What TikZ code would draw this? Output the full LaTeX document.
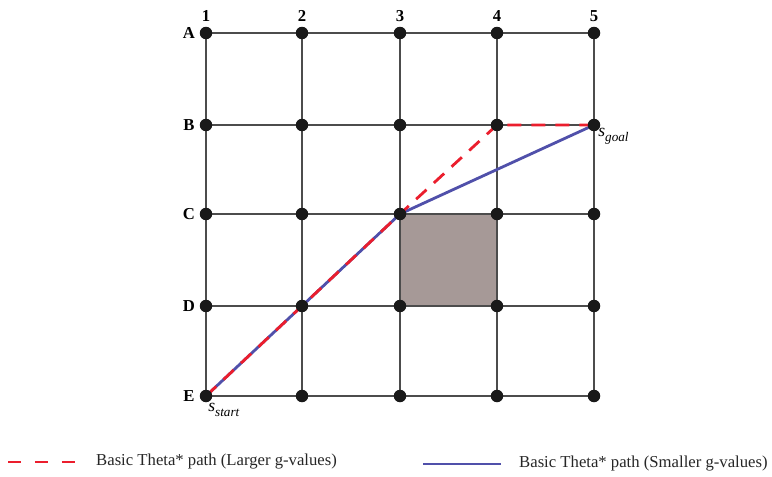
\documentclass[tikz,border=0pt]{standalone}
\usepackage{fontspec}
\setmainfont{Liberation Serif}
\usepackage{xcolor}

\definecolor{obstgray}{RGB}{166,153,151}
\definecolor{pathred}{RGB}{235,30,45}
\definecolor{pathblue}{RGB}{80,80,170}

\begin{document}
\begin{tikzpicture}[x=0.02cm, y=-0.02cm,
    gridline/.style={line width=0.75pt, black!70},
    dot/.style={circle, fill=black!90, inner sep=0pt, minimum size=0.25cm},
    redpath/.style={pathred, line width=1.6pt, dash pattern=on 0.28cm off 0.2cm},
    bluepath/.style={pathblue, line width=1.6pt},
    lbl/.style={font=\fontsize{9.5}{10}\selectfont\bfseries},
    legtext/.style={font=\fontsize{9.5}{11}\selectfont, anchor=west, text=black!85}]
    \useasboundingbox (0,0) rectangle (772,477);

    % grid points
    \foreach \r/\y in {a/33, b/125, c/214, d/306, e/396}
        \foreach \c/\x in {1/206, 2/302, 3/400, 4/497, 5/594}
            \coordinate (\r\c) at (\x,\y);

    % blocked cell
    \fill[obstgray] (c3) rectangle (d4);

    \foreach \r in {a, b, c, d, e}
        \draw[gridline] (\r1) -- (\r5);
    \foreach \c in {1, 2, 3, 4, 5}
        \draw[gridline] (a\c) -- (e\c);

    % the two paths
    \draw[bluepath] (e1) -- (c3) -- (b5);
    \draw[redpath] (e1) -- (c3) -- (b4) -- (b5);

    \foreach \r in {a, b, c, d, e}
        \foreach \c in {1, 2, 3, 4, 5}
            \node[dot] (n\r\c) at (\r\c) {};

    % labels
    \foreach \c/\x in {1/206, 2/302, 3/400, 4/497, 5/594}
        \node[lbl] (col\c) at (\x,16) {\c};
    \foreach \r/\y/\t in {a/33/A, b/125/B, c/214/C, d/306/D, e/396/E}
        \node[lbl] (row\r) at (189,\y) {\t};

    \node[anchor=north west, inner sep=0pt, font=\fontsize{10}{11}\selectfont] (sstart) at (208,403)
        {\textit{s}\raisebox{-0.6ex}{\fontsize{7.5}{8}\selectfont\textit{start}}};
    \node[anchor=north west, inner sep=0pt, font=\fontsize{10}{11}\selectfont] (sgoal) at (598,128)
        {\textit{s}\raisebox{-0.6ex}{\fontsize{7.5}{8}\selectfont\textit{goal}}};

    % legend
    \coordinate (lr1) at (8,462);
    \coordinate (lr2) at (76,462);
    \draw[redpath, dash pattern=on 0.27cm off 0.27cm] (lr1) -- (lr2);
    \node[legtext] (ltr) at (90,462) {Basic Theta* path (Larger g-values)};
    \coordinate (lb1) at (423,464);
    \coordinate (lb2) at (501,464);
    \draw[bluepath] (lb1) -- (lb2);
    \node[legtext] (ltb) at (513,464) {Basic Theta* path (Smaller g-values)};
\end{tikzpicture}
\end{document}
